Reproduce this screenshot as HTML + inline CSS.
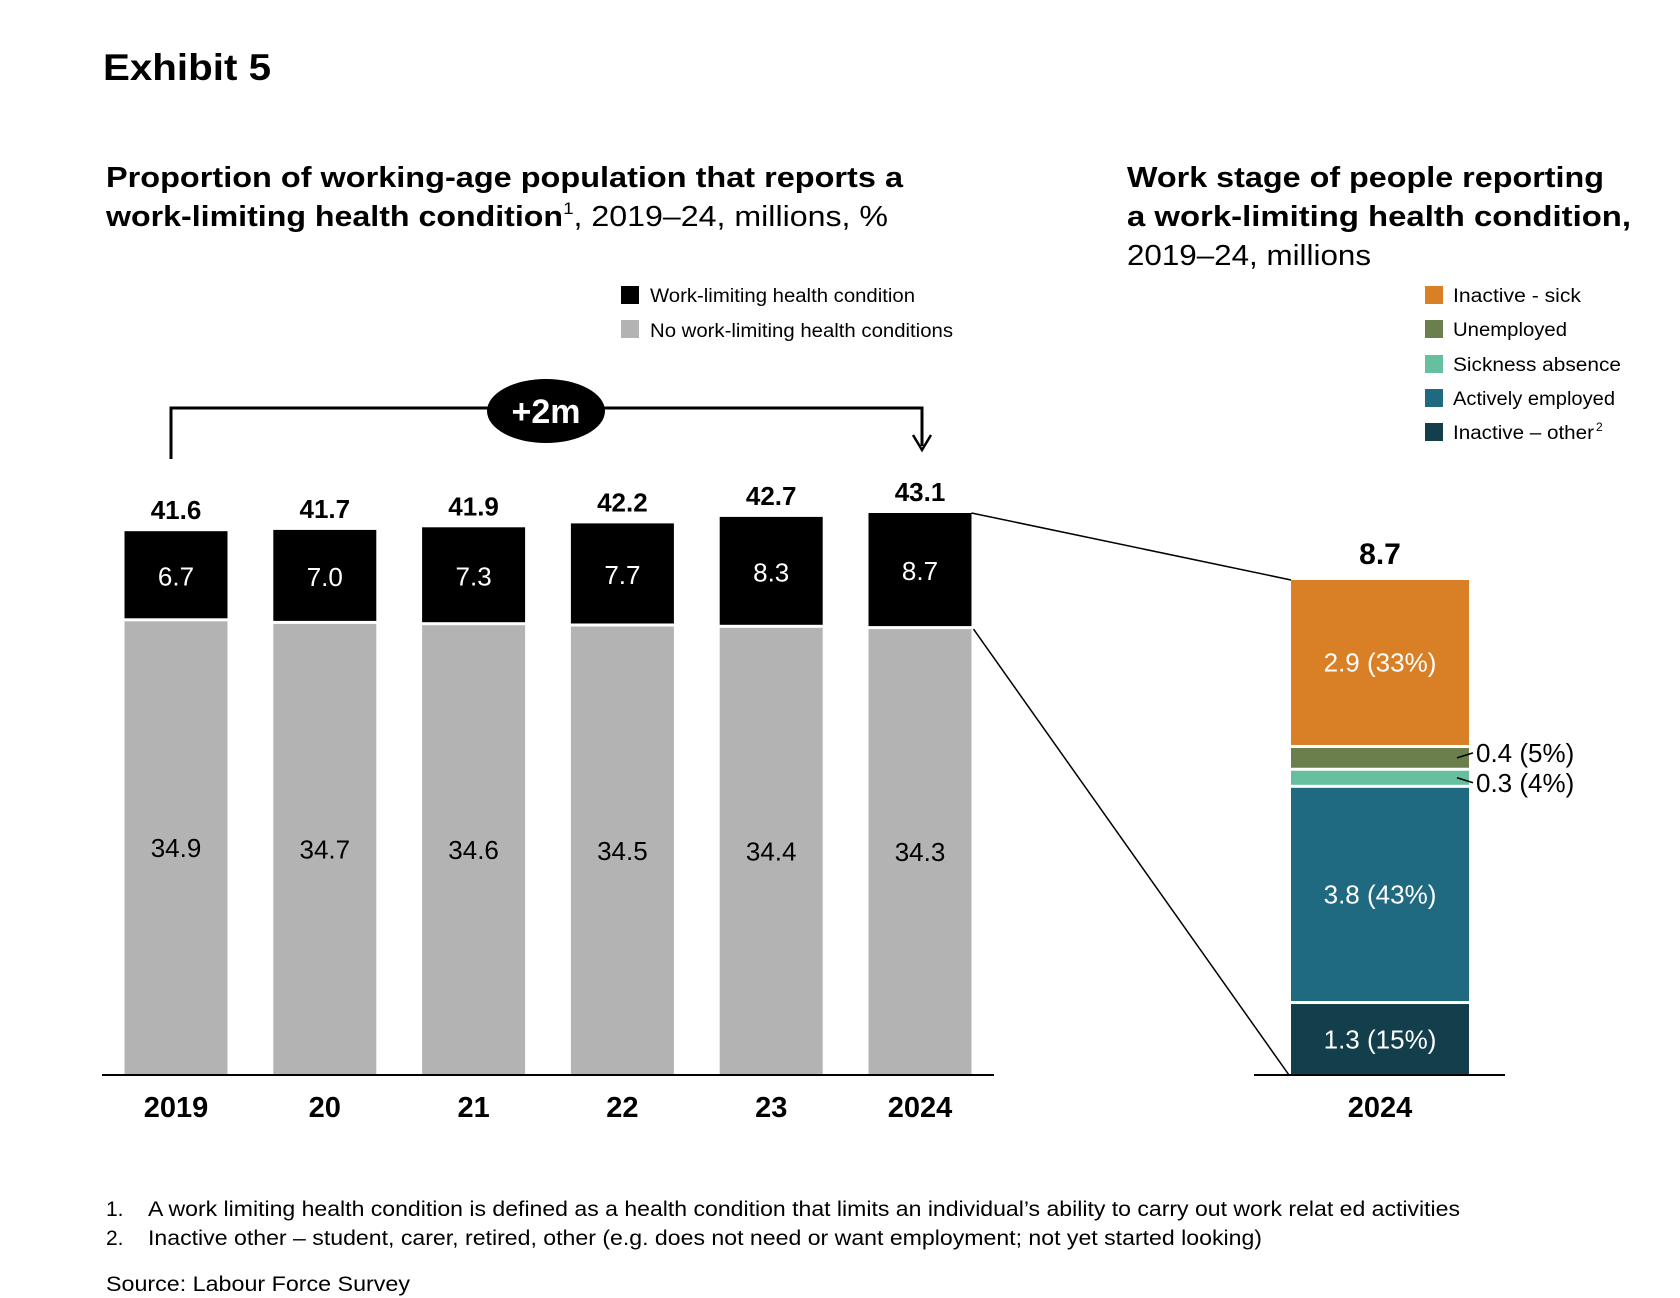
<!DOCTYPE html>
<html><head><meta charset="utf-8">
<style>
html,body{margin:0;padding:0;background:#fff;}
svg{display:block;font-family:"Liberation Sans",Arial,sans-serif;}
</style></head>
<body>
<svg id="chart" width="1680" height="1298" viewBox="0 0 1680 1298" xmlns="http://www.w3.org/2000/svg">
<text x="103" y="80" font-size="37" font-weight="bold" textLength="168" lengthAdjust="spacingAndGlyphs">Exhibit 5</text>
<g font-size="29">
<text x="106" y="187" font-weight="bold" textLength="797" lengthAdjust="spacingAndGlyphs">Proportion of working-age population that reports a</text>
<text x="106" y="226" textLength="782" lengthAdjust="spacingAndGlyphs"><tspan font-weight="bold">work-limiting health condition</tspan><tspan font-size="17" dy="-12">1</tspan><tspan dy="12">, 2019–24, millions, %</tspan></text>
</g>
<g font-size="29">
<text x="1127" y="187" font-weight="bold" textLength="477" lengthAdjust="spacingAndGlyphs">Work stage of people reporting</text>
<text x="1127" y="226" font-weight="bold" textLength="504" lengthAdjust="spacingAndGlyphs">a work-limiting health condition,</text>
<text x="1127" y="265" textLength="244" lengthAdjust="spacingAndGlyphs">2019–24, millions</text>
</g>
<g font-size="19">
<g><rect x="621" y="286" width="18" height="18" fill="#000"/><text x="650" y="302" textLength="265" lengthAdjust="spacingAndGlyphs">Work-limiting health condition</text></g>
<g><rect x="621" y="320" width="18" height="18" fill="#b3b3b3"/><text x="650" y="337" textLength="303" lengthAdjust="spacingAndGlyphs">No work-limiting health conditions</text></g>
</g>
<g id="rightLegend" font-size="19"></g>
<g>
<polyline points="171,459 171,408 922,408 922,446" fill="none" stroke="#000" stroke-width="3"/>
<polyline points="913,435 922,450 931,435" fill="none" stroke="#000" stroke-width="2.5"/>
<ellipse cx="546" cy="411" rx="59" ry="32" fill="#000"/>
<text x="546" y="423" font-size="34" font-weight="bold" fill="#fff" text-anchor="middle">+2m</text>
</g>
<g id="leftBars"></g>
<g id="rightBars"></g>
<line x1="102" y1="1075" x2="994" y2="1075" stroke="#000" stroke-width="2"/>
<line x1="1254" y1="1075" x2="1505" y2="1075" stroke="#000" stroke-width="2"/>
<g font-size="21">
<text x="106" y="1216">1.</text><text x="148" y="1216" textLength="1312" lengthAdjust="spacingAndGlyphs">A work limiting health condition is defined as a health condition that limits an individual’s ability to carry out work relat  ed activities</text>
<text x="106" y="1245">2.</text><text x="148" y="1245" textLength="1114" lengthAdjust="spacingAndGlyphs">Inactive other – student, carer, retired, other (e.g. does not need or want employment; not yet started looking)</text>
<text x="106" y="1291" textLength="304" lengthAdjust="spacingAndGlyphs">Source: Labour Force Survey</text>
</g>
</svg>
<script>
const years=["2019","20","21","22","23","2024"];
const workLimiting=[6.7,7.0,7.3,7.7,8.3,8.7];
const noWorkLimiting=[34.9,34.7,34.6,34.5,34.4,34.3];
const totals=[41.6,41.7,41.9,42.2,42.7,43.1];
const stageNames=["Inactive - sick","Unemployed","Sickness absence","Actively employed","Inactive – other"];
const stageValues=[2.9,0.4,0.3,3.8,1.3];
const stagePcts=[33,5,4,43,15];
const stageColors=["#d98026","#6a7f4b","#66c0a0","#1f6a80","#123f4b"];
const legendWidths=[128,114,168,162,141];
const NS="http://www.w3.org/2000/svg";
function mk(tag,attrs,parent){const e=document.createElementNS(NS,tag);for(const k in attrs)e.setAttribute(k,attrs[k]);parent.appendChild(e);return e;}
const base=1075, lScale=13.0, x0=176, step=148.8, bw=103;
const xL=i=>x0+i*step, yL=v=>base-v*lScale;
const lg=document.getElementById('leftBars');
years.forEach((y,i)=>{
  const cx=xL(i);
  const g=mk('g',{},lg);
  
  
  const gTop=yL(noWorkLimiting[i]);
  const gr=mk('rect',{x:cx-bw/2,y:gTop,width:bw,height:base-gTop,fill:'#b3b3b3'},g);
  
  
  const bTop=yL(noWorkLimiting[i]+workLimiting[i])-3;
  const br=mk('rect',{x:cx-bw/2,y:bTop,width:bw,height:workLimiting[i]*lScale,fill:'#000'},g);
  
  
  const t1=mk('text',{x:cx,y:(bTop+gTop)/2+9,'font-size':26,fill:'#fff','text-anchor':'middle'},g);t1.textContent=workLimiting[i].toFixed(1);
  
  
  const t2=mk('text',{x:cx,y:(gTop+base)/2+9,'font-size':26,fill:'#000','text-anchor':'middle'},g);t2.textContent=noWorkLimiting[i].toFixed(1);
  
  
  const t3=mk('text',{x:cx,y:bTop-12,'font-size':26,'font-weight':'bold','text-anchor':'middle'},g);t3.textContent=totals[i].toFixed(1);
  
  
  const t4=mk('text',{x:cx,y:1117,'font-size':29,'font-weight':'bold','text-anchor':'middle'},g);t4.textContent=y;
  
  
});
const last=years.length-1;
const lastTop=yL(noWorkLimiting[last]+workLimiting[last])-3, lastGray=yL(noWorkLimiting[last]);
const rg=document.getElementById('rightBars');
const rScale=56.9, rcx=1380, rbw=178, gap=3;
let cum=0;
const sum=stageValues.reduce((a,b)=>a+b,0);
const rTop=base-sum*rScale;
const c1=mk('line',{x1:xL(last)+bw/2,y1:lastTop,x2:rcx-rbw/2,y2:rTop,stroke:'#000','stroke-width':1.5},rg);


const c2=mk('line',{x1:xL(last)+bw/2+2,y1:lastGray,x2:rcx-rbw/2-2,y2:base,stroke:'#000','stroke-width':1.5},rg);


for(let k=stageValues.length-1;k>=0;k--){
  const yBot=base-cum*rScale, yTop=base-(cum+stageValues[k])*rScale;
  cum+=stageValues[k];
  const h=yBot-yTop-(k===0?0:gap);
  const r=mk('rect',{x:rcx-rbw/2,y:yTop+(k===0?0:gap),width:rbw,height:Math.max(h,1),fill:stageColors[k]},rg);
  
  
  const lbl=stageValues[k].toFixed(1)+' ('+stagePcts[k]+'%)';
  const mid=(yTop+(k===0?0:gap)+yBot)/2;
  if(stageValues[k]>=1){
    const t=mk('text',{x:rcx,y:mid+9,'font-size':26,fill:'#fff','text-anchor':'middle'},rg);t.textContent=lbl;
    
    
  } else {
    const ly=k===1?mid-5:mid+5;
    const ln=mk('line',{x1:rcx+77,y1:mid,x2:rcx+93,y2:ly,stroke:'#000','stroke-width':1.5},rg);
    
    
    const t=mk('text',{x:rcx+96,y:ly+9,'font-size':26,fill:'#000'},rg);t.textContent=lbl;
    
    
  }
}
const tt=mk('text',{x:rcx,y:rTop-16,'font-size':30,'font-weight':'bold','text-anchor':'middle'},rg);tt.textContent=sum.toFixed(1);


const rx=mk('text',{x:rcx,y:1117,'font-size':29,'font-weight':'bold','text-anchor':'middle'},rg);rx.textContent=years[last];


const rl=document.getElementById('rightLegend');
const legRows=[296,330,365,399,433];
stageNames.forEach((n,k)=>{
  const g=mk('g',{},rl);
  
  
  mk('rect',{x:1425,y:legRows[k]-10,width:18,height:18,fill:stageColors[k]},g);
  const t=mk('text',{x:1453,y:legRows[k]+6,textLength:legendWidths[k],lengthAdjust:'spacingAndGlyphs'},g);t.textContent=n;
  if(k===4){const s=mk('text',{x:1453+legendWidths[k]+2,y:legRows[k]-2,'font-size':12},g);s.textContent='2';}
});
</script>
</body></html>
